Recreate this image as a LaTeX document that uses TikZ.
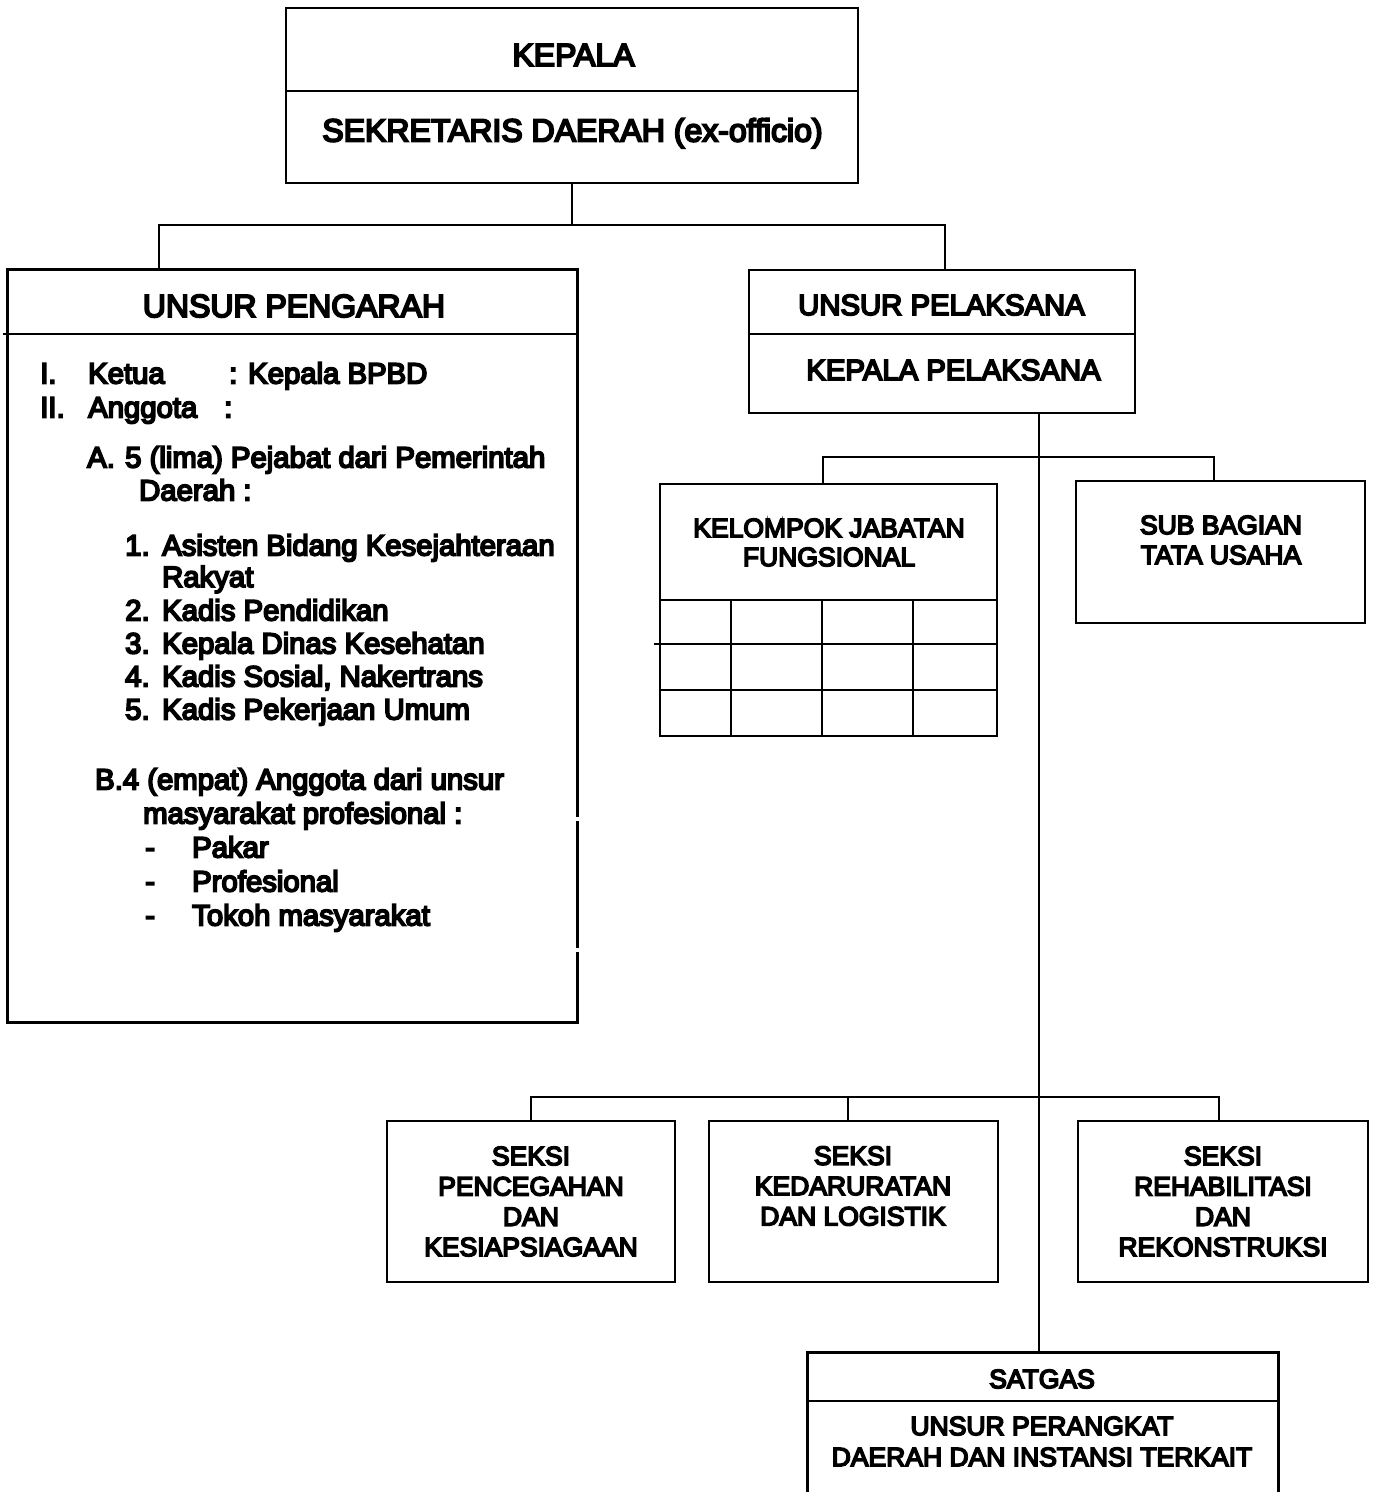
\documentclass[tikz,border=0pt]{standalone}
\usepackage{fontspec}
\setmainfont{Liberation Sans}[BoldFont=Liberation Sans, BoldFeatures={FakeBold=6}]
\begin{document}
\begin{tikzpicture}[x=1pt,y=-1pt,
  box/.style={draw, line width=2.8pt, inner sep=0pt, rectangle},
  frame/.style={draw=none, inner sep=0pt, rectangle},
  edge/.style={line width=2.8pt},
  conn/.style={line width=2.2pt},
  grid/.style={line width=2.8pt},
  big/.style={font=\fontsize{32}{38}\selectfont\bfseries, inner sep=0pt},
  mid/.style={font=\fontsize{29.3}{34}\selectfont\bfseries, inner sep=0pt},
  sm/.style={font=\fontsize{26.5}{30.3}\selectfont\bfseries, inner sep=0pt, align=center},
]
\useasboundingbox[fill=white] (0,0) rectangle (1375,1492);

% ---------- boxes ----------
\node[box, line width=2.2pt, minimum width=572pt, minimum height=175pt] (top) at (572,95.5) {};
\node[frame, minimum width=569pt, minimum height=752pt] (peng) at (292.5,646) {};
\node[box, minimum width=386pt, minimum height=143pt] (up) at (942,341.5) {};
\node[box, minimum width=337pt, minimum height=252pt] (kjf) at (828.5,610) {};
\node[box, minimum width=289pt, minimum height=142pt] (sbtu) at (1220.5,552) {};
\node[box, minimum width=288pt, minimum height=161pt] (s1) at (531,1201.5) {};
\node[box, minimum width=289pt, minimum height=161pt] (s2) at (853.5,1201.5) {};
\node[box, minimum width=290pt, minimum height=161pt] (s3) at (1223,1201.5) {};
\node[frame, minimum width=470pt, minimum height=145pt] (sat) at (1043,1425.5) {};

% left box border (with the small breaks on its right side)
\draw[edge, line cap=rect] (peng.north east |- 0,816) -- (peng.north east) -- (peng.north west) -- (peng.south west) -- (peng.south east) -- (peng.north east |- 0,953);
\draw[edge] (peng.north east |- 0,821) -- (peng.north east |- 0,948);
% satgas border (bottom cut off)
\draw[edge] (sat.south west) -- (sat.north west) -- (sat.north east) -- (sat.south east);

% dividers
\draw[line width=2.2pt] (top.west |- 0,91) -- (top.east |- 0,91);
\draw[edge] ([xshift=-5pt]peng.west |- 0,334) -- (peng.east |- 0,334);
\draw[edge] (up.west |- 0,334) -- (up.east |- 0,334);
\draw[edge] (sat.west |- 0,1401) -- (sat.east |- 0,1401);

% grid of kelompok jabatan fungsional
\draw[grid] (kjf.west |- 0,600) -- (kjf.east |- 0,600);
\draw[grid] ([xshift=-5pt]kjf.west |- 0,644) -- (kjf.east |- 0,644);
\draw[grid] (kjf.west |- 0,690) -- (kjf.east |- 0,690);
\foreach \gx in {731,822,913} {\draw[grid] (\gx,600) -- (kjf.south -| \gx,0);}

% ---------- connectors ----------
\coordinate (tb) at (572,225);
\coordinate (lb) at (159,225);
\coordinate (rb) at (945,225);
\draw[conn] (top.south) -- (tb);
\draw[conn] (peng.north -| lb) -- (lb) -- (rb) -- (up.north -| rb);

\coordinate (vx) at (1039,457);
\coordinate (k1) at (823,457);
\coordinate (k2) at (1214,457);
\draw[conn] (up.south -| vx) -- (sat.north -| vx);
\draw[conn] (kjf.north -| k1) -- (k1) -- (k2) -- (sbtu.north -| k2);

\coordinate (c1) at (531,1097);
\coordinate (c2) at (848,1097);
\coordinate (c3) at (1219,1097);
\draw[conn] (s1.north -| c1) -- (c1) -- (c3) -- (s3.north -| c3);
\draw[conn] (c2) -- (s2.north -| c2);

% ---------- texts ----------
\node[big] (tKepala) at (573.5,55) {KEPALA};
\node[big, anchor=base] (tSekda) at (572.5,141.5) {SEKRETARIS DAERAH (ex-officio)};
\node[big] (tPeng) at (294,306) {UNSUR PENGARAH};

\node[mid, anchor=base west] (l1a) at (40,383.5) {I.};
\node[mid, anchor=base west] (l1b) at (88,383.5) {Ketua};
\node[mid, anchor=base west] (l1c) at (229,383.5) {: Kepala BPBD};
\node[mid, anchor=base west] (l2a) at (40,417.5) {II.};
\node[mid, anchor=base west] (l2b) at (88,417.5) {Anggota};
\node[mid, anchor=base west] (l2c) at (224,417.5) {:};
\node[mid, anchor=base west] (lAa) at (87,467.5) {A.};
\node[mid, anchor=base west] (lAb) at (125,467.5) {5 (lima) Pejabat dari Pemerintah};
\node[mid, anchor=base west] (lAc) at (139,500.5) {Daerah :};
\node[mid, anchor=base west] (n1a) at (125,555.5) {1.};
\node[mid, anchor=base west] (n1b) at (162,555.5) {Asisten Bidang Kesejahteraan};
\node[mid, anchor=base west] (n1c) at (162,587) {Rakyat};
\node[mid, anchor=base west] (n2a) at (125,620.5) {2.};
\node[mid, anchor=base west] (n2b) at (162,620.5) {Kadis Pendidikan};
\node[mid, anchor=base west] (n3a) at (125,653.5) {3.};
\node[mid, anchor=base west] (n3b) at (162,653.5) {Kepala Dinas Kesehatan};
\node[mid, anchor=base west] (n4a) at (125,686.5) {4.};
\node[mid, anchor=base west] (n4b) at (162,686.5) {Kadis Sosial, Nakertrans};
\node[mid, anchor=base west] (n5a) at (125,719.5) {5.};
\node[mid, anchor=base west] (n5b) at (162,719.5) {Kadis Pekerjaan Umum};
\node[mid, anchor=base west] (lBa) at (95,789.5) {B.4 (empat) Anggota dari unsur};
\node[mid, anchor=base west] (lBb) at (143,823.5) {masyarakat profesional :};
\node[mid, anchor=base west] (d1a) at (145,857.5) {-};
\node[mid, anchor=base west] (d1b) at (192,857.5) {Pakar};
\node[mid, anchor=base west] (d2a) at (145,891.5) {-};
\node[mid, anchor=base west] (d2b) at (192,891.5) {Profesional};
\node[mid, anchor=base west] (d3a) at (145,925.5) {-};
\node[mid, anchor=base west] (d3b) at (192,925.5) {Tokoh masyarakat};

\node[mid] (tUP) at (941.5,305) {UNSUR PELAKSANA};
\node[mid] (tKP) at (953.5,370) {KEPALA PELAKSANA};

\node[sm, font=\fontsize{26.5}{29}\selectfont\bfseries] (tKJF) at (829,542.5) {KELOMPOK JABATAN\\FUNGSIONAL};
\node[sm, font=\fontsize{26.5}{30}\selectfont\bfseries] (tSB) at (1221,540) {SUB BAGIAN\\TATA USAHA};
\node[sm] (tS1) at (531,1201.5) {SEKSI\\PENCEGAHAN\\DAN\\KESIAPSIAGAAN};
\node[sm] (tS2) at (853,1186) {SEKSI\\KEDARURATAN\\DAN LOGISTIK};
\node[sm] (tS3) at (1223,1201.5) {SEKSI\\REHABILITASI\\DAN\\REKONSTRUKSI};
\node[sm] (tSat) at (1042,1379) {SATGAS};
\node[sm, font=\fontsize{26.5}{31}\selectfont\bfseries] (tSat2) at (1042,1441.5) {UNSUR PERANGKAT\\DAERAH DAN INSTANSI TERKAIT};
\end{tikzpicture}
\end{document}
